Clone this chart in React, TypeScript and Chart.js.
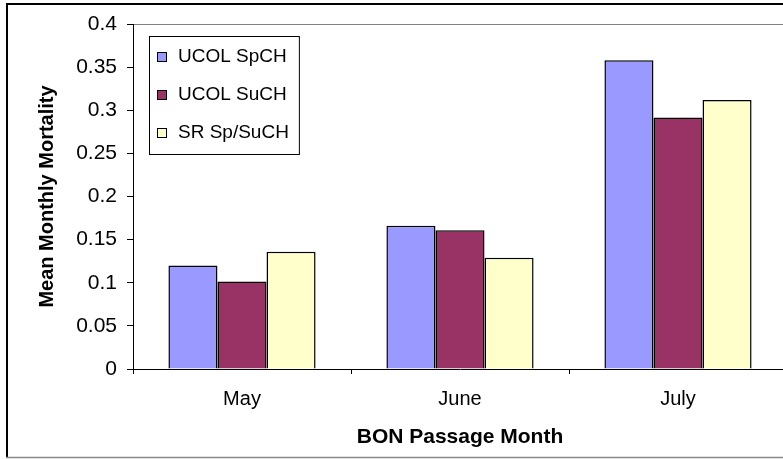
import React, { useEffect, useRef } from "react";
import { Chart, registerables } from "chart.js";

Chart.register(...registerables);

const categories = ["May", "June", "July"];
const seriesNames = ["UCOL SpCH", "UCOL SuCH", "SR Sp/SuCH"];
const ucolSpCH = [0.12, 0.166, 0.358];
const ucolSuCH = [0.1015, 0.161, 0.2915];
const srSpSuCH = [0.136, 0.129, 0.312];
const seriesColors = ["#9999FF", "#993366", "#FFFFCC"];
const yTickLabels = ["0", "0.05", "0.1", "0.15", "0.2", "0.25", "0.3", "0.35", "0.4"];
const yTitle = "Mean Monthly Mortality";
const xTitle = "BON Passage Month";

const FONT = "'Liberation Sans', Arial, sans-serif";

const framePlugin = {
  id: "frame",
  beforeDraw(chart: any) {
    const { ctx, width, height, chartArea } = chart;
    ctx.save();
    ctx.fillStyle = "#fff";
    ctx.fillRect(0, 0, width, height);
    ctx.strokeStyle = "#000";
    ctx.lineWidth = 2;
    ctx.beginPath();
    ctx.moveTo(7, 458);
    ctx.lineTo(7, 4);
    ctx.lineTo(width, 4);
    ctx.stroke();
    ctx.strokeStyle = "#888";
    ctx.lineWidth = 1.5;
    ctx.beginPath();
    ctx.moveTo(6, 457.5);
    ctx.lineTo(width, 457.5);
    ctx.stroke();
    // plot area border (top edge visible)
    ctx.strokeStyle = "#808080";
    ctx.lineWidth = 1;
    ctx.beginPath();
    ctx.moveTo(chartArea.left, Math.round(chartArea.top) + 0.5);
    ctx.lineTo(chartArea.right, Math.round(chartArea.top) + 0.5);
    ctx.stroke();
    ctx.restore();
  },
};

const legendPlugin = {
  id: "boxLegend",
  afterDraw(chart: any) {
    const { ctx } = chart;
    ctx.save();
    ctx.font = `19px ${FONT}`;
    const left = 149;
    const top = 36;
    const rowH = 38;
    const textX = 178;
    let maxW = 0;
    chart.data.datasets.forEach((ds: any) => {
      maxW = Math.max(maxW, ctx.measureText(ds.label).width);
    });
    const w = textX + maxW + 10 - left;
    const h = 118;
    ctx.fillStyle = "#fff";
    ctx.fillRect(left, top, w, h);
    ctx.strokeStyle = "#000";
    ctx.lineWidth = 1;
    ctx.strokeRect(left + 0.5, top + 0.5, w, h);
    chart.data.datasets.forEach((ds: any, i: number) => {
      const cy = top + 21 + i * rowH;
      ctx.fillStyle = ds.backgroundColor;
      ctx.fillRect(157, cy - 5, 10, 10);
      ctx.strokeStyle = "#000";
      ctx.lineWidth = 1;
      ctx.strokeRect(157.5, cy - 4.5, 9, 9);
      ctx.fillStyle = "#000";
      ctx.textBaseline = "middle";
      ctx.textAlign = "left";
      ctx.fillText(ds.label, textX, cy);
    });
    ctx.restore();
  },
};

export default function App() {
  const canvasRef = useRef<HTMLCanvasElement | null>(null);

  useEffect(() => {
    document.body.style.margin = "0";
    const canvas = canvasRef.current;
    if (!canvas) return;
    const values = [ucolSpCH, ucolSuCH, srSpSuCH];
    const chart = new Chart(canvas, {
      type: "bar",
      data: {
        labels: categories,
        datasets: seriesNames.map((name, i) => ({
          label: name,
          data: values[i],
          backgroundColor: seriesColors[i],
          borderColor: "#000",
          borderWidth: 1.5,
          categoryPercentage: 0.675,
          barPercentage: 1,
        })),
      },
      options: {
        animation: false,
        responsive: false,
        devicePixelRatio: 1,
        layout: { padding: { top: 24, right: 13, left: 0, bottom: 0 } },
        plugins: {
          legend: { display: false },
          tooltip: { enabled: false },
        },
        scales: {
          x: {
            grid: {
              offset: true,
              drawOnChartArea: false,
              tickLength: 5,
              color: "#000",
            },
            border: { display: true, color: "#000", width: 1 },
            ticks: {
              color: "#000",
              font: { family: FONT, size: 20 },
              padding: 13,
            },
            title: {
              display: true,
              text: xTitle,
              color: "#000",
              font: { family: FONT, size: 21, weight: "bold" },
              padding: { top: 0, bottom: 9 },
            },
            afterFit(scale: any) {
              scale.height = 90;
            },
          },
          y: {
            min: 0,
            max: 0.4,
            grid: {
              drawOnChartArea: false,
              tickLength: 6,
              color: "#000",
            },
            border: { display: true, color: "#000", width: 1 },
            ticks: {
              stepSize: 0.05,
              color: "#000",
              font: { family: FONT, size: 21 },
              padding: 10,
              callback: (_v: any, idx: number) => yTickLabels[idx],
            },
            title: {
              display: true,
              text: yTitle,
              color: "#000",
              font: { family: FONT, size: 20, weight: "bold" },
              padding: { top: 35, bottom: 0 },
            },
            afterFit(scale: any) {
              scale.width = 133;
            },
          },
        },
      },
      plugins: [framePlugin, legendPlugin],
    });
    return () => chart.destroy();
  }, []);

  return (
    <div style={{ position: "relative", width: 783, height: 459, overflow: "hidden" }}>
      <canvas ref={canvasRef} width={800} height={459} style={{ width: 800, height: 459, display: "block" }} />
    </div>
  );
}
